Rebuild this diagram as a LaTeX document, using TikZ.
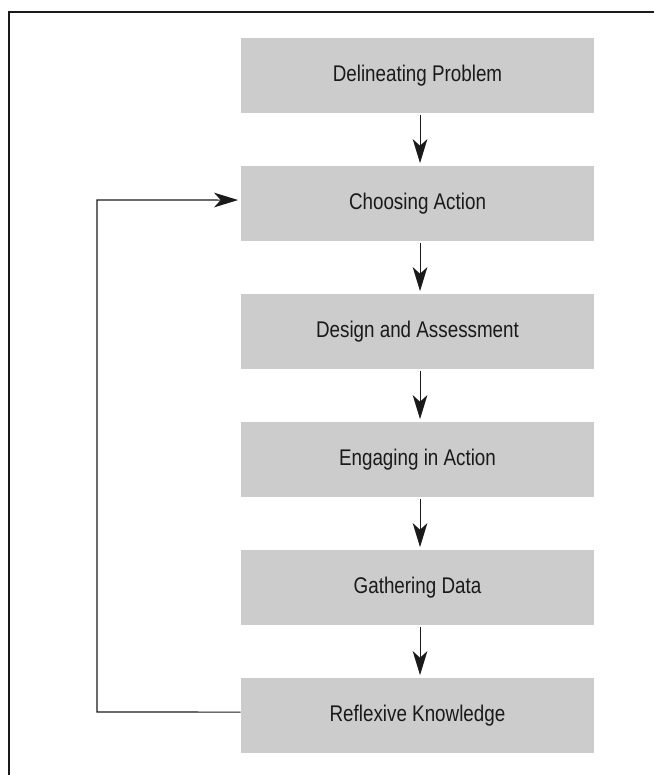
\documentclass[tikz,border=0pt]{standalone}
\usepackage{fontspec}
\setmainfont{Liberation Sans}[FakeStretch=0.83]
\usetikzlibrary{arrows.meta,calc}
\definecolor{boxgray}{HTML}{CCCCCC}
\definecolor{ink}{HTML}{1A1A1A}
\tikzset{
  stepbox/.style={fill=boxgray, draw=none, minimum width=264.75pt, minimum height=56.25pt, inner sep=0pt, text=ink, font=\fontsize{17}{20}\selectfont},
  flow/.style={line width=0.8pt, draw=ink, -{Stealth[length=18pt,width=11pt,inset=5pt]}},
  frame/.style={line width=1.3pt, draw=ink}
}
\begin{document}
\begin{tikzpicture}[x=0.75pt,y=-0.75pt]
\useasboundingbox (0,0) rectangle (654,775);
\draw[frame] (9,775) -- (9,12) -- (654,12);
\node[stepbox] (a) at (417.5,75.5) {Delineating Problem};
\node[stepbox] (b) at (417.5,203.5) {Choosing Action};
\node[stepbox] (c) at (417.5,331.5) {Design and Assessment};
\node[stepbox] (d) at (417.5,459.5) {Engaging in Action};
\node[stepbox] (e) at (417.5,587.5) {Gathering Data};
\node[stepbox] (f) at (417.5,715.5) {Reflexive Knowledge};
\foreach \u/\v in {a/b,b/c,c/d,d/e,e/f}{
  \draw[flow] ([xshift=1.9pt,yshift=-1pt]\u.south) -- ([xshift=1.9pt,yshift=2pt]\v.north);
}
\coordinate (lb) at (97,712);
\coordinate (lt) at (97,200);
\draw[flow] ([yshift=2.6pt]f.west) -- (lb) -- (lt) -- ([xshift=-2pt,yshift=2.6pt]b.west);
\end{tikzpicture}
\end{document}
